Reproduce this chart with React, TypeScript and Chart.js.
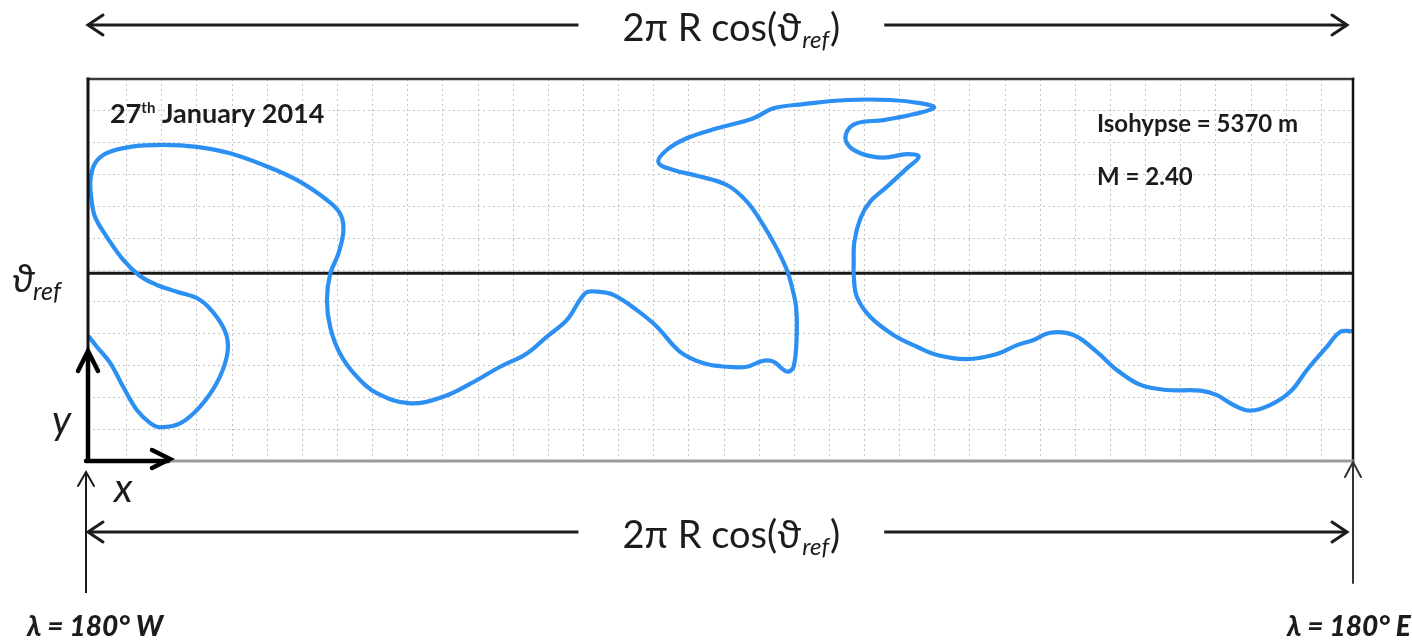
import React, { useEffect, useRef } from "react";
import { Chart, registerables } from "chart.js";

Chart.register(...registerables);

// Longitude span mapped to 0..360 (180° W .. 180° E), y in arbitrary units (10 per grid row)
const X_MIN = 0;
const X_MAX = 360;
const Y_MIN = 0;
const Y_MAX = 120;

// Grid line positions
const X_GRID = [11, 21, 31, 41, 51, 61, 71, 81, 91, 101, 111, 121, 131, 141, 151, 161, 171, 181, 191, 201, 211, 221, 231, 241, 251, 261, 271, 281, 291, 301, 311, 321, 331, 341, 351];
const Y_GRID = [10, 20, 30, 40, 50, 60, 70, 80, 90, 100, 110];

// Reference latitude line
const REF_X = [0, 360];
const REF_Y = 59;

// Isohypse 5370 m, traced in order
const CURVE_X = [
  0.3, 2.5, 6.3, 10.0, 13.9, 17.7, 20.5, 26.2, 31.9, 36.6, 39.5, 39.5, 36.6, 31.9, 25.3, 19.6, 14.8, 10.1, 5.3, 2.0,
  1.0, 0.7, 2.0, 5.3, 12.0, 21.4, 30.9, 40.4, 49.9, 59.4, 68.0, 71.7, 72.7, 71.3, 68.9, 68.0, 68.9, 71.7, 76.5, 82.2,
  91.7, 101.1, 108.7, 117.3, 124.9, 130.6, 136.3, 141.5, 144.8, 149.5, 156.2, 161.9, 168.5, 175.2, 181.8, 187.5, 192.2, 195.1, 198.9, 200.8,
  201.7, 201.5, 200.3, 198.9, 196.0, 192.2, 187.5, 181.8, 173.3, 166.6, 162.3, 164.7, 170.4, 179.0, 189.4, 195.1, 203.6, 216.0, 228.3, 236.8,
  240.8, 234.9, 226.4, 218.8, 216.0, 216.0, 219.8, 226.4, 233.1, 236.4, 233.1, 227.4, 222.6, 219.8, 218.1, 217.9, 217.9, 218.8, 222.6, 229.2,
  235.9, 241.6, 250.1, 258.7, 264.4, 269.1, 273.8, 280.5, 287.1, 292.8, 299.5, 307.1, 316.5, 321.3, 326.0, 330.8, 336.5, 342.2, 346.9, 352.6,
  356.4, 359.7,
];
const CURVE_Y = [
  39.0, 35.9, 30.8, 23.3, 16.0, 11.9, 10.6, 11.8, 17.1, 24.4, 32.8, 39.1, 45.3, 50.6, 53.2, 55.3, 58.1, 63.1, 70.5, 76.7,
  82.0, 88.3, 93.5, 96.7, 98.7, 99.3, 98.7, 96.7, 93.0, 88.3, 82.0, 77.8, 72.6, 65.3, 58.7, 50.6, 42.2, 33.8, 26.5, 21.3,
  18.1, 20.2, 24.2, 29.6, 33.8, 39.1, 44.3, 52.7, 53.2, 52.2, 47.4, 42.2, 34.3, 30.7, 29.6, 29.6, 31.5, 31.2, 28.1, 29.6,
  40.1, 48.5, 54.8, 60.0, 66.8, 74.1, 81.5, 86.7, 89.6, 91.4, 93.8, 97.7, 101.4, 104.5, 107.7, 110.8, 112.1, 113.4, 113.4, 112.4,
  111.0, 108.9, 107.1, 106.1, 103.5, 99.8, 96.7, 95.3, 96.4, 95.6, 92.0, 86.2, 81.5, 76.2, 68.9, 61.6, 58.4, 51.6, 45.3, 39.6,
  35.9, 33.3, 32.0, 33.6, 36.4, 38.0, 40.3, 39.6, 34.3, 28.6, 23.9, 22.3, 22.1, 20.7, 17.6, 15.8, 17.6, 21.8, 28.6, 35.9,
  40.6, 40.8,
];

// Texts
const SPAN_LABEL_MAIN = "2π R cos(";
const SPAN_LABEL_THETA = "ϑ";
const SPAN_LABEL_SUB = "ref";
const SPAN_LABEL_END = ")";
const DATE_DAY = "27";
const DATE_SUP = "th";
const DATE_REST = " January 2014";
const ISO_LABEL = "Isohypse = 5370 m";
const M_LABEL = "M = 2.40";
const LON_W = "λ = 180° W";
const LON_E = "λ = 180° E";
const THETA = "ϑ";
const THETA_SUB = "ref";
const Y_LABEL = "y";
const X_LABEL = "x";

const BLUE = "#2c8ff2";
const INK = "#1c1c1c";
const FONT = "Lato, 'Open Sans', 'DejaVu Sans', sans-serif";

function seg(ctx: CanvasRenderingContext2D, x1: number, y1: number, x2: number, y2: number, color: string, w: number) {
  ctx.beginPath();
  ctx.strokeStyle = color;
  ctx.lineWidth = w;
  ctx.moveTo(x1, y1);
  ctx.lineTo(x2, y2);
  ctx.stroke();
}

// chevron head: tip at (x,y), direction (dx,dy) unit pointing toward tip
function head(ctx: CanvasRenderingContext2D, x: number, y: number, dx: number, dy: number, back: number, half: number, color: string, w: number) {
  const bx = x - dx * back;
  const by = y - dy * back;
  const px = -dy;
  const py = dx;
  ctx.beginPath();
  ctx.strokeStyle = color;
  ctx.lineWidth = w;
  ctx.lineJoin = "miter";
  ctx.lineCap = "round";
  ctx.moveTo(bx + px * half, by + py * half);
  ctx.lineTo(x, y);
  ctx.lineTo(bx - px * half, by - py * half);
  ctx.stroke();
}

function txt(ctx: CanvasRenderingContext2D, s: string, x: number, y: number, font: string, color = INK) {
  ctx.font = font;
  ctx.fillStyle = color;
  ctx.textAlign = "left";
  ctx.textBaseline = "alphabetic";
  ctx.fillText(s, x, y);
  return ctx.measureText(s).width;
}

function spanLabel(ctx: CanvasRenderingContext2D, cx: number, base: number) {
  const fMain = `38px ${FONT}`;
  const fSub = `italic 24px ${FONT}`;
  ctx.font = fMain;
  const w1 = ctx.measureText(SPAN_LABEL_MAIN).width;
  const w2 = ctx.measureText(SPAN_LABEL_THETA).width;
  const w4 = ctx.measureText(SPAN_LABEL_END).width;
  ctx.font = fSub;
  const w3 = ctx.measureText(SPAN_LABEL_SUB).width;
  const total = w1 + w2 + w3 + w4 + 2;
  let x = cx - total / 2;
  txt(ctx, SPAN_LABEL_MAIN, x, base, fMain);
  x += w1;
  txt(ctx, SPAN_LABEL_THETA, x, base, fMain);
  x += w2 + 1;
  txt(ctx, SPAN_LABEL_SUB, x, base + 7, fSub);
  x += w3 + 1;
  txt(ctx, SPAN_LABEL_END, x, base, fMain);
  return total;
}

function spanArrow(ctx: CanvasRenderingContext2D, left: number, right: number, y: number, base: number) {
  const cx = left + (right - left) * 0.511;
  const w = spanLabel(ctx, cx, base);
  const gap = w / 2 + 44;
  ctx.lineCap = "butt";
  seg(ctx, left + 2, y, cx - gap, y, INK, 3);
  seg(ctx, cx + gap, y, right - 2, y, INK, 3);
  head(ctx, left, y, -1, 0, 15, 10, INK, 3);
  head(ctx, right, y, 1, 0, 15, 10, INK, 3);
}

const overlay = {
  id: "overlay",
  afterDatasetsDraw(chart: any) {
    const ctx: CanvasRenderingContext2D = chart.ctx;
    const a = chart.chartArea;
    const L = a.left, R = a.right, T = a.top, B = a.bottom;
    ctx.save();
    ctx.lineCap = "square";
    // frame
    seg(ctx, L, T, R, T, "#3a3a3a", 2.5);
    seg(ctx, R, T, R, B, "#111", 2.5);
    seg(ctx, L, B, R, B, "#9c9c9c", 3);
    seg(ctx, L, T, L, B, "#111", 3);
    // x / y arrows at origin
    ctx.lineCap = "butt";
    seg(ctx, L, B + 1, L, B - 108, "#000", 4.5);
    head(ctx, L, B - 110, 0, -1, 20, 10, "#000", 4.5);
    seg(ctx, L - 2, B, L + 80, B, "#000", 4.5);
    head(ctx, L + 82, B - 2, 1, 0, 18, 9, "#000", 4.5);
    ctx.restore();
  },
  afterDraw(chart: any) {
    const ctx: CanvasRenderingContext2D = chart.ctx;
    const a = chart.chartArea;
    const L = a.left, R = a.right, T = a.top, B = a.bottom;
    ctx.save();
    // span arrows top and bottom
    spanArrow(ctx, L, R - 6, T - 54, T - 38);
    spanArrow(ctx, L, R - 6, B + 71, B + 87);

    // longitude markers
    ctx.lineCap = "butt";
    seg(ctx, L - 2, B + 12, L - 2, B + 132, INK, 2);
    head(ctx, L - 2, B + 11, 0, -1, 14, 8, INK, 2);
    seg(ctx, R, B + 2, R, B + 122, "#333", 2);
    head(ctx, R, B + 1, 0, -1, 15, 8, "#333", 2);
    txt(ctx, LON_W, L - 61, B + 175, `italic 900 28px ${FONT}`);
    txt(ctx, LON_E, R - 66, B + 175, `italic 900 28px ${FONT}`);

    // axis letters
    txt(ctx, THETA, L - 76, T + 213, `italic 38px ${FONT}`);
    txt(ctx, THETA_SUB, L - 55, T + 221, `italic 25px ${FONT}`);
    txt(ctx, Y_LABEL, L - 36, B - 27, `italic 40px ${FONT}`);
    txt(ctx, X_LABEL, L + 26, B + 41, `italic 40px ${FONT}`);

    // annotations inside
    const w1 = txt(ctx, DATE_DAY, L + 22, T + 44, `bold 27px ${FONT}`);
    const w2 = txt(ctx, DATE_SUP, L + 22 + w1, T + 34, `bold 15px ${FONT}`);
    txt(ctx, DATE_REST, L + 22 + w1 + w2, T + 44, `bold 27px ${FONT}`);
    txt(ctx, ISO_LABEL, L + 1009, T + 53, `bold 24px ${FONT}`);
    txt(ctx, M_LABEL, L + 1009, T + 106, `bold 24px ${FONT}`);
    ctx.restore();
  },
};

export default function App() {
  const ref = useRef<HTMLCanvasElement>(null);
  useEffect(() => {
    const chart = new Chart(ref.current as HTMLCanvasElement, {
      type: "scatter",
      data: {
        datasets: [
          {
            label: "Isohypse 5370 m",
            data: CURVE_X.map((x, i) => ({ x, y: CURVE_Y[i] })),
            showLine: true,
            borderColor: BLUE,
            backgroundColor: BLUE,
            borderWidth: 4.2,
            borderJoinStyle: "round",
            borderCapStyle: "round",
            pointRadius: 0,
            tension: 0.38,
            fill: false,
            order: 0,
            clip: false,
          } as any,
          {
            label: "reference latitude",
            data: REF_X.map((x) => ({ x, y: REF_Y })),
            showLine: true,
            borderColor: "#1a1a1a",
            borderWidth: 3,
            pointRadius: 0,
            order: 1,
          } as any,
        ],
      },
      options: {
        responsive: false,
        animation: false,
        events: [],
        layout: { padding: { left: 88, top: 79, right: 59, bottom: 180 } },
        plugins: { legend: { display: false }, tooltip: { enabled: false }, title: { display: false } },
        scales: {
          x: {
            type: "linear",
            min: X_MIN,
            max: X_MAX,
            grid: { color: "#c4c4c4", lineWidth: 1, drawTicks: false },
            border: { display: false, dash: [2, 3] },
            ticks: { display: false },
            afterBuildTicks: (s: any) => {
              s.ticks = X_GRID.map((v) => ({ value: v }));
            },
          },
          y: {
            type: "linear",
            min: Y_MIN,
            max: Y_MAX,
            grid: { color: "#c4c4c4", lineWidth: 1, drawTicks: false },
            border: { display: false, dash: [2, 3] },
            ticks: { display: false },
            afterBuildTicks: (s: any) => {
              s.ticks = Y_GRID.map((v) => ({ value: v }));
            },
          },
        },
      } as any,
      plugins: [overlay],
    });
    return () => chart.destroy();
  }, []);
  return (
    <div style={{ position: "fixed", left: 0, top: 0, width: 1412, height: 641, background: "#fff" }}>
      <canvas ref={ref} width={1412} height={641} style={{ display: "block" }} />
    </div>
  );
}
